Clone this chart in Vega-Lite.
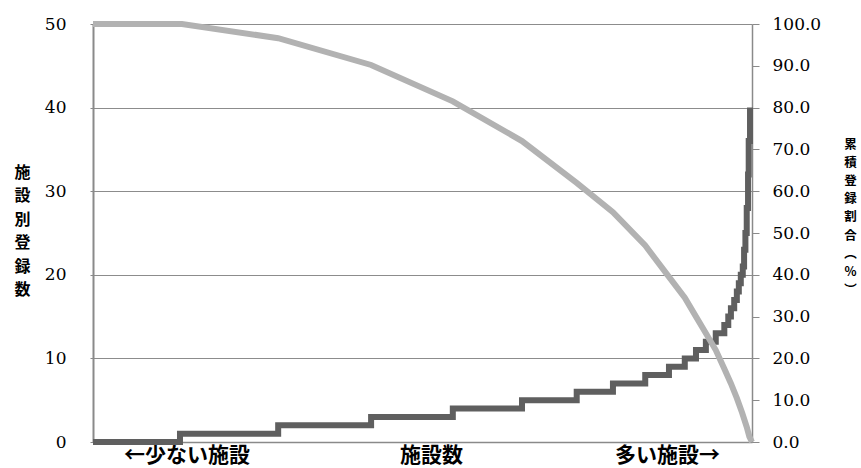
{
  "$schema": "https://vega.github.io/schema/vega-lite/v6.json",
  "width": 659,
  "height": 418,
  "autosize": {"type": "none"},
  "padding": {"left": 93, "top": 24, "right": 109, "bottom": 26},
  "background": "white",
  "config": {"view": {"stroke": null}},
  "datasets": {
    "counts": [
      {"pos": 0, "count": 0},
      {"pos": 13.2, "count": 1},
      {"pos": 28.1, "count": 2},
      {"pos": 42.2, "count": 3},
      {"pos": 54.6, "count": 4},
      {"pos": 65.1, "count": 5},
      {"pos": 73.4, "count": 6},
      {"pos": 78.9, "count": 7},
      {"pos": 83.8, "count": 8},
      {"pos": 87.4, "count": 9},
      {"pos": 89.8, "count": 10},
      {"pos": 91.5, "count": 11},
      {"pos": 93.0, "count": 12},
      {"pos": 94.5, "count": 13},
      {"pos": 95.8, "count": 14},
      {"pos": 96.4, "count": 15},
      {"pos": 96.8, "count": 16},
      {"pos": 97.3, "count": 17},
      {"pos": 97.7, "count": 18},
      {"pos": 98.0, "count": 19},
      {"pos": 98.3, "count": 20},
      {"pos": 98.6, "count": 21},
      {"pos": 98.8, "count": 23},
      {"pos": 99.0, "count": 25},
      {"pos": 99.2, "count": 28},
      {"pos": 99.4, "count": 32},
      {"pos": 99.5, "count": 36},
      {"pos": 99.7, "count": 40}
    ],
    "cumulative": [
      {"pos": 0, "share": 100},
      {"pos": 13.5, "share": 100},
      {"pos": 28.1, "share": 96.6},
      {"pos": 42.2, "share": 90.2},
      {"pos": 54.6, "share": 81.5},
      {"pos": 65.1, "share": 72},
      {"pos": 73.4, "share": 62},
      {"pos": 78.9, "share": 55},
      {"pos": 83.8, "share": 47},
      {"pos": 87.4, "share": 39.5},
      {"pos": 89.8, "share": 34.5},
      {"pos": 91.5, "share": 30},
      {"pos": 93.0, "share": 26},
      {"pos": 94.5, "share": 22},
      {"pos": 95.8, "share": 17.5},
      {"pos": 96.8, "share": 14},
      {"pos": 97.7, "share": 10.5},
      {"pos": 98.5, "share": 7},
      {"pos": 99.2, "share": 3.6},
      {"pos": 99.6, "share": 1.3},
      {"pos": 100, "share": 0}
    ]
  },
  "encoding": {
    "x": {
      "field": "pos",
      "type": "quantitative",
      "scale": {"domain": [0, 100], "nice": false, "zero": true},
      "axis": {
        "title": null,
        "values": [14.2, 51.3, 87.1],
        "labelExpr": "datum.value < 30 ? '←少ない施設' : (datum.value < 70 ? '施設数' : '多い施設→')",
        "ticks": false,
        "grid": false,
        "domainColor": "#8a8a8a",
        "domainWidth": 1.5,
        "labelFont": "Noto Sans CJK JP",
        "labelFontSize": 21,
        "labelFontWeight": "bold",
        "labelColor": "#000000",
        "labelPadding": 2,
        "labelFlush": false,
        "labelOverlap": false
      }
    }
  },
  "layer": [
    {
      "data": {"name": "counts"},
      "mark": {"type": "line", "interpolate": "step-after", "color": "#5f5f5f", "strokeWidth": 6},
      "encoding": {
        "y": {
          "field": "count",
          "type": "quantitative",
          "scale": {"domain": [0, 50], "nice": false},
          "axis": {
            "title": ["施", "設", "別", "登", "録", "数"],
            "titleAngle": 0,
            "titleX": -71,
            "titleY": 140,
            "titleAlign": "center",
            "titleBaseline": "top",
            "titleLineHeight": 23.5,
            "titleFont": "Noto Sans CJK JP",
            "titleFontSize": 16,
            "titleFontWeight": "bold",
            "titleColor": "#000000",
            "values": [0, 10, 20, 30, 40, 50],
            "grid": true,
            "gridColor": "#8c8c8c",
            "gridWidth": 1.2,
            "domainColor": "#8a8a8a",
            "domainWidth": 2,
            "tickColor": "#8a8a8a",
            "tickSize": 3,
            "labelFont": "DejaVu Serif",
            "labelFontSize": 17,
            "labelColor": "#000000",
            "labelPadding": 24,
            "labelFlush": false,
            "labelOverlap": false
          }
        }
      }
    },
    {
      "data": {"name": "cumulative"},
      "mark": {"type": "line", "color": "#b2b2b2", "strokeWidth": 6},
      "encoding": {
        "y": {
          "field": "share",
          "type": "quantitative",
          "scale": {"domain": [0, 100], "nice": false},
          "axis": {
            "orient": "right",
            "title": ["累", "積", "登", "録", "割", "合", "︵", "%", "︶"],
            "titleAngle": 0,
            "titleX": 98,
            "titleY": 114,
            "titleAlign": "center",
            "titleBaseline": "top",
            "titleLineHeight": 18.2,
            "titleFont": "Noto Sans CJK JP",
            "titleFontSize": 12.5,
            "titleFontWeight": "bold",
            "titleColor": "#000000",
            "values": [0, 10, 20, 30, 40, 50, 60, 70, 80, 90, 100],
            "format": ".1f",
            "grid": false,
            "domainColor": "#8a8a8a",
            "domainWidth": 1.5,
            "tickColor": "#8a8a8a",
            "tickSize": 7,
            "labelFont": "DejaVu Serif",
            "labelFontSize": 17,
            "labelColor": "#000000",
            "labelPadding": 13,
            "labelFlush": false,
            "labelOverlap": false
          }
        }
      }
    }
  ],
  "resolve": {"scale": {"y": "independent"}}
}
